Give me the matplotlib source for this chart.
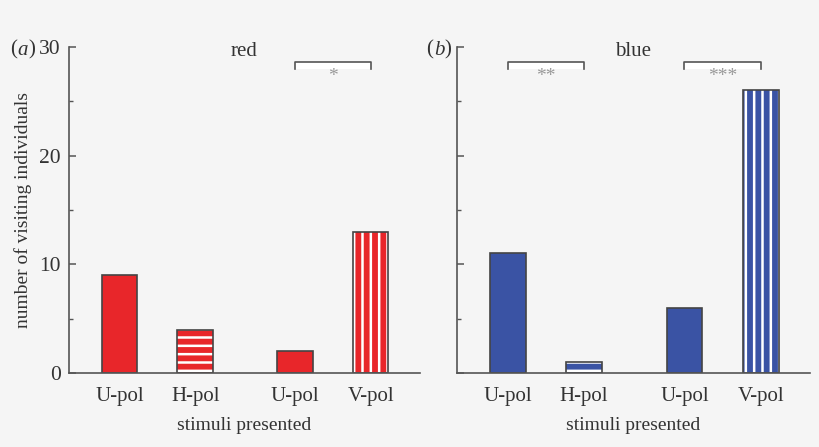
import matplotlib
matplotlib.use("Agg")
from matplotlib import pyplot as plt
from matplotlib.ticker import MultipleLocator

stimuli = ["U-pol", "H-pol", "U-pol", "V-pol"]
red_counts = [9, 4, 2, 13]
blue_counts = [11, 1, 6, 26]
stripes = [None, "--", None, "||"]
panel_titles = ["red", "blue"]
panel_tags = ["a", "b"]
# pairs of bars compared, and the stars shown over them
red_tests = [((2, 3), "*")]
blue_tests = [((0, 1), "**"), ((2, 3), "***")]

positions = [1, 2, 3.32, 4.32]
bg = "#f5f5f5"
txt = "#333333"
edge = "#444444"

plt.rcParams["font.family"] = ["Liberation Serif", "DejaVu Serif"]
plt.rcParams["hatch.linewidth"] = 1.8

fig = plt.figure(figsize=(8.2, 4.47), dpi=100, facecolor=bg)
ax1 = fig.add_axes([0.084, 0.1655, 0.428, 0.7293])
ax2 = fig.add_axes([0.557, 0.1655, 0.431, 0.7293])


def draw_panel(ax, counts, colour, tests, title, show_labels):
    ax.set_facecolor(bg)
    for x, v, h in zip(positions, counts, stripes):
        if h:
            ax.bar(x, v, width=0.47, color=colour, edgecolor="white",
                   hatch=h, linewidth=0)
            ax.bar(x, v, width=0.47, fill=False, edgecolor=edge, linewidth=1.2)
        else:
            ax.bar(x, v, width=0.47, color=colour, edgecolor=edge, linewidth=1.2)

    for (i, j), stars in tests:
        x0, x1 = positions[i], positions[j]
        ax.fill_between([x0, x1], 28.0, 28.6, color="white", linewidth=0)
        ax.plot([x0, x0, x1, x1], [28.0, 28.6, 28.6, 28.0],
                color="#555555", linewidth=1.2)
        ax.text((x0 + x1) / 2, 27.3, stars, ha="center", va="center",
                fontsize=14, color="#999999")

    ax.set_xlim(0.33, 4.97)
    ax.set_ylim(0, 30)
    ax.set_xticks(positions)
    ax.set_xticklabels(stimuli, fontsize=15, color=txt)
    ax.yaxis.set_major_locator(MultipleLocator(10))
    ax.yaxis.set_minor_locator(MultipleLocator(5))
    ax.tick_params(axis="x", length=0, pad=10)
    ax.tick_params(axis="y", which="major", direction="in", length=5,
                   width=1.1, color="#555555", labelsize=15.5, labelcolor=txt, pad=6)
    ax.tick_params(axis="y", which="minor", direction="in", length=3,
                   width=1.0, color="#555555")
    if not show_labels:
        ax.tick_params(axis="y", labelleft=False)
    for s in ["top", "right"]:
        ax.spines[s].set_visible(False)
    for s in ["left", "bottom"]:
        ax.spines[s].set_color("#555555")
        ax.spines[s].set_linewidth(1.2)
    ax.set_xlabel("stimuli presented", fontsize=14, color=txt, labelpad=8)
    ax.text(0.5, 0.985, title, transform=ax.transAxes, ha="center",
            va="center", fontsize=15, color=txt)


draw_panel(ax1, red_counts, "#e8262a", red_tests, panel_titles[0], True)
draw_panel(ax2, blue_counts, "#3a53a4", blue_tests, panel_titles[1], False)
ax1.set_ylabel("number of visiting individuals", fontsize=14, color=txt,
               labelpad=5)

for tag, x in zip(panel_tags, [0.012, 0.52]):
    fig.text(x, 0.888, "(", fontsize=15, color=txt, va="center")
    fig.text(x + 0.009, 0.888, tag, fontsize=15, color=txt, va="center",
             fontstyle="italic")
    fig.text(x + 0.0225, 0.888, ")", fontsize=15, color=txt, va="center")

fig.savefig("out.png", dpi=100, facecolor=bg)
